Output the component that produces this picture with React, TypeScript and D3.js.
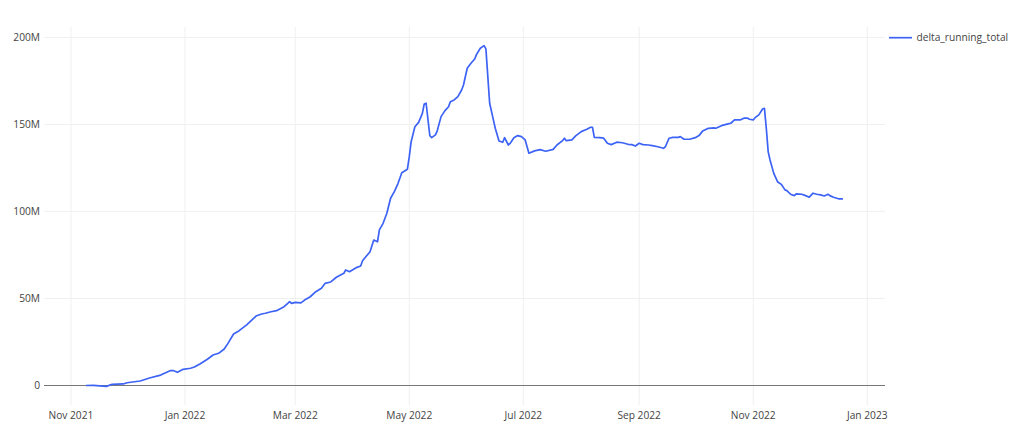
import React from "react";
import * as d3 from "d3";

const seriesName = "delta_running_total";

const dates: string[] = [
  "2021-11-09","2021-11-13","2021-11-20","2021-11-23","2021-11-29","2021-12-01","2021-12-08","2021-12-11",
  "2021-12-13","2021-12-19","2021-12-24","2021-12-26","2021-12-28","2021-12-31","2022-01-04","2022-01-06",
  "2022-01-09","2022-01-13","2022-01-16","2022-01-19","2022-01-22","2022-01-24","2022-01-27","2022-01-30",
  "2022-02-03","2022-02-08","2022-02-11","2022-02-13","2022-02-16","2022-02-19","2022-02-23","2022-02-25",
  "2022-02-26","2022-02-27","2022-03-01","2022-03-04","2022-03-06","2022-03-09","2022-03-12","2022-03-15",
  "2022-03-17","2022-03-20","2022-03-23","2022-03-27","2022-03-28","2022-03-30","2022-04-03","2022-04-05",
  "2022-04-06","2022-04-10","2022-04-12","2022-04-14","2022-04-15","2022-04-17","2022-04-19","2022-04-21",
  "2022-04-23","2022-04-25","2022-04-27","2022-04-30","2022-05-01","2022-05-02","2022-05-04","2022-05-06",
  "2022-05-08","2022-05-09","2022-05-10","2022-05-12","2022-05-13","2022-05-15","2022-05-16","2022-05-18",
  "2022-05-20","2022-05-22","2022-05-23","2022-05-25","2022-05-27","2022-05-29","2022-05-30","2022-06-01",
  "2022-06-03","2022-06-05","2022-06-06","2022-06-08","2022-06-10","2022-06-11","2022-06-13","2022-06-15",
  "2022-06-16","2022-06-18","2022-06-20","2022-06-21","2022-06-23","2022-06-24","2022-06-26","2022-06-28",
  "2022-06-30","2022-07-02","2022-07-04","2022-07-07","2022-07-10","2022-07-13","2022-07-17","2022-07-19",
  "2022-07-22","2022-07-23","2022-07-24","2022-07-27","2022-07-29","2022-08-01","2022-08-04","2022-08-06",
  "2022-08-07","2022-08-08","2022-08-11","2022-08-13","2022-08-15","2022-08-17","2022-08-20","2022-08-23",
  "2022-08-26","2022-08-28","2022-08-30","2022-09-01","2022-09-03","2022-09-06","2022-09-08","2022-09-11",
  "2022-09-14","2022-09-15","2022-09-17","2022-09-19","2022-09-22","2022-09-23","2022-09-25","2022-09-28",
  "2022-10-01","2022-10-03","2022-10-05","2022-10-08","2022-10-11","2022-10-12","2022-10-15","2022-10-19",
  "2022-10-20","2022-10-22","2022-10-25","2022-10-27","2022-10-29","2022-10-30","2022-11-01","2022-11-02",
  "2022-11-04","2022-11-06","2022-11-07","2022-11-08","2022-11-09","2022-11-10","2022-11-12","2022-11-14",
  "2022-11-16","2022-11-18","2022-11-19","2022-11-21","2022-11-23","2022-11-24","2022-11-27","2022-11-29",
  "2022-12-01","2022-12-03","2022-12-05","2022-12-07","2022-12-09","2022-12-11","2022-12-12","2022-12-14",
  "2022-12-17","2022-12-19",
];

// values in millions
const valuesM: number[] = [
  0.0, 0.1, -0.5, 0.7, 0.9, 1.6, 2.6, 3.6,
  4.3, 6.0, 8.5, 8.5, 7.6, 9.3, 9.9, 10.6,
  12.4, 15.1, 17.5, 18.5, 21.0, 24.2, 29.6, 31.5,
  34.8, 39.9, 41.1, 41.5, 42.4, 43.0, 45.3, 47.2,
  48.2, 47.2, 47.8, 47.5, 49.1, 51.0, 53.9, 55.9,
  58.7, 59.5, 62.2, 64.5, 66.4, 65.4, 67.9, 68.7,
  71.7, 76.9, 83.6, 82.6, 89.4, 93.2, 99.0, 107.6,
  111.4, 116.2, 122.3, 124.3, 131.5, 140.1, 148.7, 151.2,
  156.4, 161.8, 162.2, 143.5, 142.4, 144.0, 146.5, 154.5,
  157.8, 160.2, 163.1, 164.1, 166.0, 169.8, 172.7, 182.3,
  185.2, 187.6, 190.3, 193.8, 195.3, 193.4, 162.2, 152.6,
  147.8, 140.5, 139.8, 142.4, 138.2, 139.2, 142.4, 143.6,
  143.0, 141.1, 133.5, 134.8, 135.5, 134.6, 135.7, 138.2,
  140.7, 142.1, 140.7, 141.1, 143.4, 145.9, 147.2, 148.4,
  148.4, 142.6, 142.4, 142.1, 139.2, 138.4, 139.8, 139.5,
  138.6, 138.4, 137.6, 139.2, 138.4, 138.2, 137.8, 137.2,
  136.3, 137.2, 142.1, 142.6, 142.6, 143.0, 141.5, 141.5,
  142.4, 143.6, 146.3, 147.8, 148.0, 147.8, 149.3, 150.5,
  150.7, 152.6, 152.6, 153.6, 153.6, 153.0, 152.6, 153.9,
  155.5, 158.9, 159.3, 147.8, 134.4, 129.6, 121.9, 117.1,
  115.6, 112.4, 112.0, 109.9, 109.1, 110.1, 109.9, 109.1,
  108.2, 110.5, 109.9, 109.5, 108.9, 109.9, 109.1, 108.2,
  107.2, 107.2,
];

const xDomain: string[] = ["2021-10-17T14:00:00Z", "2023-01-10T12:00:00Z"];
const yDomainM: number[] = [-11.2, 206];
const yTicksM: number[] = [0, 50, 100, 150, 200];

const W = 1024;
const H = 435;
const left = 44;
const right = 885;
const top = 27;
const bottom = 405;
const FONT = '"Open Sans", verdana, arial, sans-serif';
const FS = 10.2;
const TEXT = "#444";
const LINE = "#3d63f5";

export default function App() {
  const parse = (s: string) => new Date(s.length === 10 ? s + "T00:00:00Z" : s);
  const x = d3.scaleUtc().domain(xDomain.map(parse)).range([left, right]);
  const y = d3.scaleLinear().domain(yDomainM.map((v) => v * 1e6)).range([bottom, top]);

  const data = dates.map((d, i) => ({ date: parse(d), value: valuesM[i] * 1e6 }));
  const line = d3
    .line<{ date: Date; value: number }>()
    .x((d) => x(d.date))
    .y((d) => y(d.value))
    .curve(d3.curveLinear);

  const xTicks = x.ticks(d3.utcMonth.every(2)!).filter((t) => t.getUTCMonth() % 2 === 10 % 2);
  const fmtX = d3.utcFormat("%b %Y");
  const fmtY = d3.format("~s");

  return (
    <svg
      width={W}
      height={H}
      style={{ position: "absolute", left: 0, top: 0, background: "#fff" }}
      fontFamily={FONT}
    >
      {/* vertical grid */}
      {xTicks.map((t, i) => (
        <line
          key={"vx" + i}
          x1={x(t)}
          x2={x(t)}
          y1={top}
          y2={bottom}
          stroke="#eee"
          strokeWidth={0.9}
        />
      ))}
      {/* horizontal grid */}
      {yTicksM.filter((v) => v !== 0).map((v) => (
        <line
          key={"hy" + v}
          x1={left}
          x2={right}
          y1={y(v * 1e6)}
          y2={y(v * 1e6)}
          stroke="#eee"
          strokeWidth={0.9}
        />
      ))}
      {/* zero line */}
      <line x1={left} x2={right} y1={y(0)} y2={y(0)} stroke="#777" strokeWidth={1.2} />
      {/* x tick labels */}
      {xTicks.map((t, i) => (
        <text
          key={"tx" + i}
          x={x(t)}
          y={419}
          textAnchor="middle"
          fontSize={FS}
          fill={TEXT}
        >
          {fmtX(t)}
        </text>
      ))}
      {/* y tick labels */}
      {yTicksM.map((v) => (
        <text
          key={"ty" + v}
          x={40}
          y={y(v * 1e6)}
          dy="0.35em"
          textAnchor="end"
          fontSize={FS}
          fill={TEXT}
        >
          {fmtY(v * 1e6)}
        </text>
      ))}
      {/* series */}
      <path d={line(data) ?? ""} fill="none" stroke={LINE} strokeWidth={1.7} strokeLinejoin="round" />
      {/* legend */}
      <line x1={889} x2={912} y1={37.7} y2={37.7} stroke={LINE} strokeWidth={1.7} />
      <text x={916.5} y={37.7} dy="0.35em" fontSize={FS} fill={TEXT}>
        {seriesName}
      </text>
    </svg>
  );
}
